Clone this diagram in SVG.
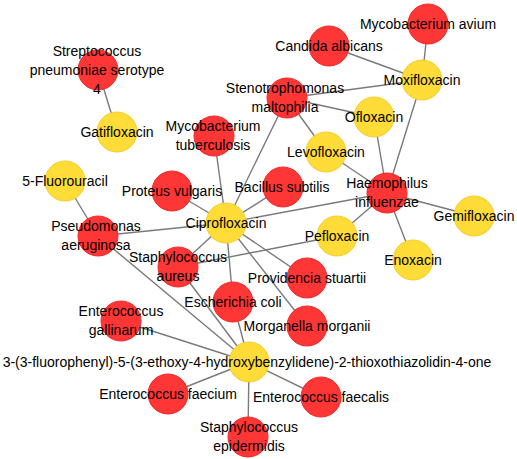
<svg xmlns="http://www.w3.org/2000/svg" width="517" height="459" viewBox="0 0 517 459">
<style>
.e{stroke:#7a7a7a;stroke-width:1.4;fill:none}
.r{fill:#FF3636;stroke:#F22A2A;stroke-width:1}
.y{fill:#FFDC38;stroke:#F4CE2A;stroke-width:1}
text{font-family:"Liberation Sans",Arial,sans-serif;font-size:14px;fill:#000;text-anchor:middle}
</style>
<rect width="517" height="459" fill="#fff"/>
<g id="connectors">
<line class="e" x1="98" y1="70" x2="117" y2="132"/>
<line class="e" x1="329" y1="46" x2="422" y2="80"/>
<line class="e" x1="428" y1="24" x2="422" y2="80"/>
<line class="e" x1="287" y1="98" x2="422" y2="80"/>
<line class="e" x1="287" y1="98" x2="374" y2="117"/>
<line class="e" x1="287" y1="98" x2="326" y2="152"/>
<line class="e" x1="287" y1="98" x2="226" y2="223"/>
<line class="e" x1="422" y1="80" x2="387" y2="193"/>
<line class="e" x1="374" y1="117" x2="387" y2="193"/>
<line class="e" x1="326" y1="152" x2="387" y2="193"/>
<line class="e" x1="214" y1="136" x2="226" y2="223"/>
<line class="e" x1="172" y1="191" x2="226" y2="223"/>
<line class="e" x1="283" y1="187" x2="226" y2="223"/>
<line class="e" x1="387" y1="193" x2="226" y2="223"/>
<line class="e" x1="387" y1="193" x2="474" y2="216"/>
<line class="e" x1="387" y1="193" x2="413" y2="260"/>
<line class="e" x1="387" y1="193" x2="337" y2="236"/>
<line class="e" x1="98" y1="236" x2="226" y2="223"/>
<line class="e" x1="65" y1="181" x2="98" y2="236"/>
<line class="e" x1="98" y1="236" x2="249" y2="362"/>
<line class="e" x1="178" y1="267" x2="226" y2="223"/>
<line class="e" x1="178" y1="267" x2="337" y2="236"/>
<line class="e" x1="178" y1="267" x2="249" y2="362"/>
<line class="e" x1="233" y1="302" x2="226" y2="223"/>
<line class="e" x1="233" y1="302" x2="249" y2="362"/>
<line class="e" x1="307" y1="278" x2="226" y2="223"/>
<line class="e" x1="307" y1="326" x2="226" y2="223"/>
<line class="e" x1="121" y1="321" x2="249" y2="362"/>
<line class="e" x1="168" y1="394" x2="249" y2="362"/>
<line class="e" x1="321" y1="397" x2="249" y2="362"/>
<line class="e" x1="248" y1="437" x2="249" y2="362"/>
</g>
<g id="n_strep"><circle class="r" cx="98" cy="70" r="20"/></g>
<g id="n_gati"><circle class="y" cx="117" cy="132" r="20"/></g>
<g id="n_mtb"><circle class="r" cx="214" cy="136" r="20"/></g>
<g id="n_candida"><circle class="r" cx="329" cy="46" r="20"/></g>
<g id="n_mavium"><circle class="r" cx="428" cy="24" r="20"/></g>
<g id="n_moxi"><circle class="y" cx="422" cy="80" r="20"/></g>
<g id="n_steno"><circle class="r" cx="287" cy="98" r="20"/></g>
<g id="n_oflo"><circle class="y" cx="374" cy="117" r="20"/></g>
<g id="n_levo"><circle class="y" cx="326" cy="152" r="20"/></g>
<g id="n_5fu"><circle class="y" cx="65" cy="181" r="20"/></g>
<g id="n_proteus"><circle class="r" cx="172" cy="191" r="20"/></g>
<g id="n_bacillus"><circle class="r" cx="283" cy="187" r="20"/></g>
<g id="n_haem"><circle class="r" cx="387" cy="193" r="20"/></g>
<g id="n_gemi"><circle class="y" cx="474" cy="216" r="20"/></g>
<g id="n_cipro"><circle class="y" cx="226" cy="223" r="20"/></g>
<g id="n_pseudo"><circle class="r" cx="98" cy="236" r="20"/></g>
<g id="n_peflo"><circle class="y" cx="337" cy="236" r="20"/></g>
<g id="n_enox"><circle class="y" cx="413" cy="260" r="20"/></g>
<g id="n_saureus"><circle class="r" cx="178" cy="267" r="20"/></g>
<g id="n_provid"><circle class="r" cx="307" cy="278" r="20"/></g>
<g id="n_ecoli"><circle class="r" cx="233" cy="302" r="20"/></g>
<g id="n_morg"><circle class="r" cx="307" cy="326" r="20"/></g>
<g id="n_egall"><circle class="r" cx="121" cy="321" r="20"/></g>
<g id="n_compound"><circle class="y" cx="249" cy="362" r="20"/></g>
<g id="n_efaecium"><circle class="r" cx="168" cy="394" r="20"/></g>
<g id="n_efaecalis"><circle class="r" cx="321" cy="397" r="20"/></g>
<g id="n_sepi"><circle class="r" cx="248" cy="437" r="20"/></g>
<g id="labels">
<text x="97" y="56">Streptococcus</text>
<text x="97" y="75">pneumoniae serotype</text>
<text x="97" y="94">4</text>
<text x="117" y="137">Gatifloxacin</text>
<text x="213" y="131">Mycobacterium</text>
<text x="213" y="150">tuberculosis</text>
<text x="329" y="51">Candida albicans</text>
<text x="428" y="29">Mycobacterium avium</text>
<text x="422" y="85">Moxifloxacin</text>
<text x="285" y="93">Stenotrophomonas</text>
<text x="285" y="112">maltophilia</text>
<text x="374" y="122">Ofloxacin</text>
<text x="326" y="157">Levofloxacin</text>
<text x="65" y="186">5-Fluorouracil</text>
<text x="172" y="196">Proteus vulgaris</text>
<text x="282" y="192">Bacillus subtilis</text>
<text x="387" y="188">Haemophilus</text>
<text x="387" y="207">influenzae</text>
<text x="474" y="221">Gemifloxacin</text>
<text x="226" y="228">Ciprofloxacin</text>
<text x="96" y="231">Pseudomonas</text>
<text x="96" y="250">aeruginosa</text>
<text x="337" y="241">Pefloxacin</text>
<text x="413" y="265">Enoxacin</text>
<text x="178" y="262">Staphylococcus</text>
<text x="178" y="281">aureus</text>
<text x="307" y="283">Providencia stuartii</text>
<text x="233" y="307">Escherichia coli</text>
<text x="307" y="331">Morganella morganii</text>
<text x="121" y="316">Enterococcus</text>
<text x="121" y="335">gallinarum</text>
<text x="247" y="367">3-(3-fluorophenyl)-5-(3-ethoxy-4-hydroxybenzylidene)-2-thioxothiazolidin-4-one</text>
<text x="168" y="399">Enterococcus faecium</text>
<text x="321" y="402">Enterococcus faecalis</text>
<text x="249" y="432">Staphylococcus</text>
<text x="249" y="451">epidermidis</text>
</g>
</svg>
